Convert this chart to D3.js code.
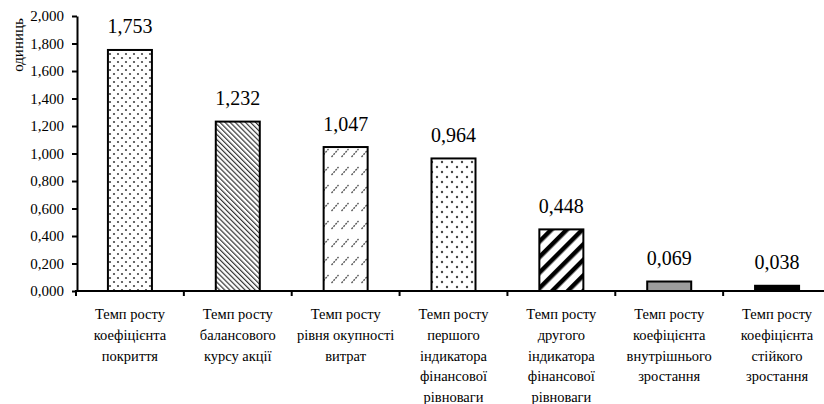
<!DOCTYPE html>
<html><head><meta charset="utf-8">
<script src="https://cdn.jsdelivr.net/npm/d3@7/dist/d3.min.js"></script>
<style>html,body{margin:0;padding:0;background:#fff;}svg{display:block;}</style>
</head><body>
<script>
const categories = [
  ["Темп росту","коефіцієнта","покриття"],
  ["Темп росту","балансового","курсу акції"],
  ["Темп росту","рівня окупності","витрат"],
  ["Темп росту","першого","індикатора","фінансової","рівноваги"],
  ["Темп росту","другого","індикатора","фінансової","рівноваги"],
  ["Темп росту","коефіцієнта","внутрішнього","зростання"],
  ["Темп росту","коефіцієнта","стійкого","зростання"]
];
const values = [1.753, 1.232, 1.047, 0.964, 0.448, 0.069, 0.038];
const fills = ["url(#p-dots1)","url(#p-down)","url(#p-dash)","url(#p-dots2)","url(#p-wide)","#9c9c9c","#000"];
const yTicks = [0,0.2,0.4,0.6,0.8,1.0,1.2,1.4,1.6,1.8,2.0];
const yTitle = "одиниць";

const W = 824, H = 404;
const FONT = "Liberation Serif";
const fmt = v => d3.format(".3f")(v).replace(".", ",");
const svg = d3.select("body").append("svg").attr("width", W).attr("height", H).attr("font-family", FONT);

const defs = svg.append("defs");
let p = defs.append("pattern").attr("id","p-dots1").attr("patternUnits","userSpaceOnUse").attr("width",8).attr("height",8);
p.append("rect").attr("width",8).attr("height",8).attr("fill","#fff");
p.append("circle").attr("cx",2).attr("cy",2).attr("r",1.1).attr("fill","#444");
p.append("circle").attr("cx",6).attr("cy",6).attr("r",1.1).attr("fill","#444");
p = defs.append("pattern").attr("id","p-dots2").attr("patternUnits","userSpaceOnUse").attr("width",10).attr("height",10);
p.append("rect").attr("width",10).attr("height",10).attr("fill","#fff");
p.append("circle").attr("cx",2).attr("cy",2).attr("r",1.2).attr("fill","#444");
p.append("circle").attr("cx",7).attr("cy",7).attr("r",1.2).attr("fill","#444");
p = defs.append("pattern").attr("id","p-down").attr("patternUnits","userSpaceOnUse").attr("width",3.6).attr("height",10).attr("patternTransform","rotate(-45)");
p.append("rect").attr("width",3.6).attr("height",10).attr("fill","#fff");
p.append("rect").attr("width",1.2).attr("height",10).attr("fill","#333");
p = defs.append("pattern").attr("id","p-dash").attr("patternUnits","userSpaceOnUse").attr("width",10).attr("height",18);
p.append("rect").attr("width",10).attr("height",18).attr("fill","#fff");
p.append("line").attr("x1",1.5).attr("y1",13).attr("x2",8.5).attr("y2",5).attr("stroke","#555").attr("stroke-width",1.3).attr("stroke-dasharray","2,1");
p = defs.append("pattern").attr("id","p-wide").attr("patternUnits","userSpaceOnUse").attr("width",11).attr("height",10).attr("patternTransform","rotate(45)");
p.append("rect").attr("width",11).attr("height",10).attr("fill","#fff");
p.append("rect").attr("width",4.5).attr("height",10).attr("fill","#000");

const x = d3.scaleBand().domain(d3.range(categories.length)).range([76, 831]).paddingInner(0.592).paddingOuter(0.296);
const y = d3.scaleLinear().domain([0, 2]).range([291, 16]);

svg.selectAll("rect.bar").data(values).join("rect").attr("class","bar")
  .attr("x", (d,i) => x(i)).attr("width", x.bandwidth())
  .attr("y", d => y(d)).attr("height", d => y(0) - y(d))
  .attr("fill", (d,i) => fills[i]).attr("stroke","#000").attr("stroke-width",2);

svg.selectAll("text.val").data(values).join("text").attr("class","val")
  .attr("x", (d,i) => x(i) + x.bandwidth()/2).attr("y", d => y(d) - 16.5)
  .attr("text-anchor","middle").attr("font-size",20).attr("font-family",FONT).attr("fill","#000").text(d => fmt(d));

const yAxis = svg.append("g").attr("transform","translate(77,0)")
  .call(d3.axisLeft(y).tickValues(yTicks).tickSize(5).tickSizeOuter(0).tickPadding(8).tickFormat(fmt));
yAxis.attr("font-family", FONT).attr("font-size", 15);
yAxis.select(".domain").attr("stroke","#000").attr("stroke-width",2);
yAxis.selectAll(".tick line").attr("stroke","#000").attr("stroke-width",2);
yAxis.selectAll(".tick text").attr("font-size",15).attr("font-family",FONT).attr("fill","#000");

svg.append("line").attr("x1",75).attr("x2",W).attr("y1",y(0)).attr("y2",y(0)).attr("stroke","#000").attr("stroke-width",2);
const bounds = d3.range(categories.length + 1).map(i => x.range()[0] + i * x.step());
svg.selectAll("line.xt").data(bounds.filter(b => b <= W)).join("line").attr("class","xt")
  .attr("x1", d => d).attr("x2", d => d).attr("y1", y(0)).attr("y2", y(0) + 5)
  .attr("stroke","#000").attr("stroke-width",2);

const cat = svg.selectAll("text.cat").data(categories).join("text").attr("class","cat")
  .attr("text-anchor","middle").attr("font-size",14.5).attr("font-family",FONT).attr("fill","#000");
cat.each(function(lines, i){
  const t = d3.select(this);
  lines.forEach((l, j) => t.append("tspan").attr("x", x(i) + x.bandwidth()/2).attr("y", 319 + j*20.8).text(l));
});

svg.append("text").attr("transform","translate(23,45) rotate(-90)")
  .attr("text-anchor","middle").attr("font-size",15).attr("font-family",FONT).attr("fill","#000").text(yTitle);
</script>
</body></html>
